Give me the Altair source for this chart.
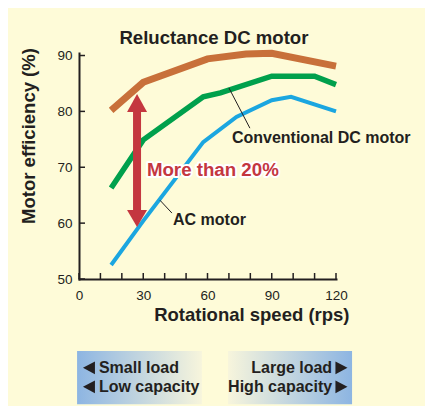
import altair as alt
import pandas as pd

# ---- series data ----
series_names = ["Reluctance DC motor", "Conventional DC motor", "AC motor"]
series_colors = ["#C8703A", "#00A04C", "#1BA6E0"]
series_widths = [7, 4, 4]

speed_rel = [15, 30, 60, 78, 90, 120]
eff_rel = [80.2, 85.2, 89.4, 90.25, 90.4, 88.1]
speed_conv = [15, 30, 58, 66, 90, 110, 120]
eff_conv = [66.3, 74.9, 82.6, 83.3, 86.3, 86.3, 84.8]
speed_ac = [15, 30, 58, 73.5, 90, 99, 120]
eff_ac = [52.5, 60.4, 74.5, 79.0, 82.0, 82.6, 80.0]

x_label_ticks = [0, 30, 60, 90, 120]
x_minor_ticks = [0, 10, 20, 30, 40, 50, 60, 70, 80, 90, 100, 110, 120]
y_ticks = [50, 60, 70, 80, 90]

# ---- annotations ----
title_text = ["Reluctance DC motor"]
title_x = [63.0]
title_y = [93.1]

label_texts = ["Conventional DC motor", "AC motor"]
label_x = [71.4, 43.9]
label_y = [75.2, 60.55]

leader_x = [70.0, 37.8]
leader_y = [84.2, 64.1]
leader_x2 = [79.8, 43.4]
leader_y2 = [77.0, 61.8]

arrow_x = [27.1]
arrow_top = [83.1]
arrow_bottom = [59.3]
shaft_top = [80.0]
shaft_bottom = [62.3]
gain_text = ["More than 20%"]
gain_x = [31.7]
gain_y = [69.5]

box_x = [-0.9, 69.6]
box_x2 = [57.4, 127.5]
box_y = [37.1, 37.1]
box_y2 = [27.6, 27.6]
left_texts = ["Small load", "Low capacity"]
right_texts = ["Large load", "High capacity"]
left_text_x = [9.3, 9.3]
right_text_x = [118.2, 118.2]
left_tri_x = [4.5, 4.5]
right_tri_x = [122.7, 122.7]
row_y = [34.1, 30.7]

INK = "#231F20"
RED = "#C4373F"
FONT = "Liberation Sans, DejaVu Sans, Arial"
BG = "#FEFBD8"

rows = []
for name, xs_, ys_ in zip(series_names, [speed_rel, speed_conv, speed_ac],
                          [eff_rel, eff_conv, eff_ac]):
    for a, b in zip(xs_, ys_):
        rows.append({"series": name, "speed": a, "eff": b})
lines_df = pd.DataFrame(rows)

xs = alt.Scale(domain=[0, 120], nice=False, zero=False)
ys = alt.Scale(domain=[50, 90.45], nice=False, zero=False)

x_axis = alt.Axis(values=x_label_ticks, ticks=False, tickSize=0, grid=False,
                  domainColor=INK, domainWidth=2, domainCap="square",
                  labelFont=FONT, labelFontSize=13.5, labelColor=INK, labelPadding=9,
                  labelFlush=False, labelOverlap=False,
                  title="Rotational speed (rps)", titleFont=FONT, titleFontSize=18.5,
                  titleFontWeight="bold", titleColor=INK, titleX=270, titleY=35,
                  titleAlign="right", titleBaseline="middle")
y_axis = alt.Axis(values=y_ticks, ticks=False, tickSize=0, grid=False,
                  domainColor=INK, domainWidth=2, domainCap="square",
                  labelFont=FONT, labelFontSize=13.5, labelColor=INK, labelPadding=7,
                  labelFlush=False, labelOverlap=False,
                  title="Motor efficiency (%)", titleFont=FONT, titleFontSize=18.5,
                  titleFontWeight="bold", titleColor=INK, titleX=-50.5, titleY=82.5,
                  titleAngle=270, titleAlign="center", titleBaseline="middle")


def X(field):
    return alt.X(field, scale=xs, axis=x_axis)


def Y(field):
    return alt.Y(field, scale=ys, axis=y_axis)


lines = alt.Chart(lines_df).mark_line(strokeCap="butt", strokeJoin="miter").encode(
    x=X("speed:Q"),
    y=Y("eff:Q"),
    color=alt.Color("series:N", scale=alt.Scale(domain=series_names, range=series_colors), legend=None),
    strokeWidth=alt.StrokeWidth("series:N", scale=alt.Scale(domain=series_names, range=series_widths), legend=None),
    detail="series:N",
)

xt = alt.Chart(pd.DataFrame({"t": x_minor_ticks})).mark_rule(color=INK, strokeWidth=1.5).encode(
    x=X("t:Q"), y=alt.value(226), y2=alt.value(220))
yt = alt.Chart(pd.DataFrame({"t": y_ticks})).mark_rule(color=INK, strokeWidth=1.5).encode(
    y=Y("t:Q"), x=alt.value(0), x2=alt.value(6))

title = alt.Chart(pd.DataFrame({"t": title_text, "x": title_x, "y": title_y})).mark_text(
    font=FONT, fontSize=18.6, fontWeight="bold", color=INK, align="center", baseline="middle").encode(
    x=X("x:Q"), y=Y("y:Q"), text="t:N")

labels = alt.Chart(pd.DataFrame({"t": label_texts, "x": label_x, "y": label_y})).mark_text(
    font=FONT, fontSize=16, fontWeight="bold", color=INK, align="left", baseline="middle").encode(
    x=X("x:Q"), y=Y("y:Q"), text="t:N")

leaders = alt.Chart(pd.DataFrame({"x": leader_x, "y": leader_y, "x2": leader_x2, "y2": leader_y2})).mark_rule(
    color=INK, strokeWidth=1).encode(
    x=X("x:Q"), y=Y("y:Q"), x2="x2:Q", y2="y2:Q")

arrow_df = pd.DataFrame({"x": arrow_x, "top": arrow_top, "bottom": arrow_bottom,
                         "s1": shaft_top, "s2": shaft_bottom})
shaft = alt.Chart(arrow_df).mark_rule(color=RED, strokeWidth=8, strokeCap="butt").encode(
    x=X("x:Q"), y=Y("s1:Q"), y2="s2:Q")
head_up = alt.Chart(arrow_df).mark_point(shape="M0,0L1,1.8L-1,1.8Z", size=400, filled=True,
                                          fill=RED, opacity=1, strokeWidth=0).encode(
    x=X("x:Q"), y=Y("top:Q"))
head_down = alt.Chart(arrow_df).mark_point(shape="M0,0L1,-1.7L-1,-1.7Z", size=400, filled=True,
                                            fill=RED, opacity=1, strokeWidth=0).encode(
    x=X("x:Q"), y=Y("bottom:Q"))

gain_df = pd.DataFrame({"t": gain_text, "x": gain_x, "y": gain_y})
gain_halo = alt.Chart(gain_df).mark_text(font=FONT, fontSize=18.7, fontWeight="bold", fill="white",
                                         stroke="white", strokeWidth=4, strokeJoin="round",
                                         align="left", baseline="middle").encode(
    x=X("x:Q"), y=Y("y:Q"), text="t:N")
gain = alt.Chart(gain_df).mark_text(font=FONT, fontSize=18.7, fontWeight="bold", color=RED,
                                    align="left", baseline="middle").encode(
    x=X("x:Q"), y=Y("y:Q"), text="t:N")

BLUE = "#8DB5E2"
CREAM = "#F7F5DC"
box_df = pd.DataFrame({"x": box_x, "x2": box_x2, "y": box_y, "y2": box_y2})
box_left = alt.Chart(box_df.iloc[[0]]).mark_rect(
    fill=alt.LinearGradient(gradient="linear", x1=0, x2=1, y1=0, y2=0,
                            stops=[alt.GradientStop(color=BLUE, offset=0),
                                   alt.GradientStop(color=CREAM, offset=1)])).encode(
    x=X("x:Q"), x2="x2:Q", y=Y("y:Q"), y2="y2:Q")
box_right = alt.Chart(box_df.iloc[[1]]).mark_rect(
    fill=alt.LinearGradient(gradient="linear", x1=0, x2=1, y1=0, y2=0,
                            stops=[alt.GradientStop(color=CREAM, offset=0),
                                   alt.GradientStop(color=BLUE, offset=1)])).encode(
    x=X("x:Q"), x2="x2:Q", y=Y("y:Q"), y2="y2:Q")

lt = alt.Chart(pd.DataFrame({"t": left_texts, "x": left_text_x, "y": row_y})).mark_text(
    font=FONT, fontSize=16, fontWeight="bold", color=INK, align="left", baseline="middle").encode(
    x=X("x:Q"), y=Y("y:Q"), text="t:N")
rt = alt.Chart(pd.DataFrame({"t": right_texts, "x": right_text_x, "y": row_y})).mark_text(
    font=FONT, fontSize=16, fontWeight="bold", color=INK, align="right", baseline="middle").encode(
    x=X("x:Q"), y=Y("y:Q"), text="t:N")
ltri = alt.Chart(pd.DataFrame({"x": left_tri_x, "y": row_y})).mark_point(
    shape="M-0.9,0L1,-1L1,1Z", size=160, filled=True, fill=INK, opacity=1, strokeWidth=0).encode(
    x=X("x:Q"), y=Y("y:Q"))
rtri = alt.Chart(pd.DataFrame({"x": right_tri_x, "y": row_y})).mark_point(
    shape="M0.9,0L-1,-1L-1,1Z", size=160, filled=True, fill=INK, opacity=1, strokeWidth=0).encode(
    x=X("x:Q"), y=Y("y:Q"))

chart = alt.layer(
    lines, box_left, box_right, lt, rt, ltri, rtri,
    xt, yt, leaders, labels, title,
    shaft, head_up, head_down, gain_halo, gain,
).properties(
    width=257, height=226,
    padding={"left": 71, "top": 45, "right": 89, "bottom": 127},
    autosize=alt.AutoSizeParams(type="none"),
).configure(background=BG).configure_view(stroke=None)

chart.save("out.html", embed_options={"renderer": "svg", "actions": False})
